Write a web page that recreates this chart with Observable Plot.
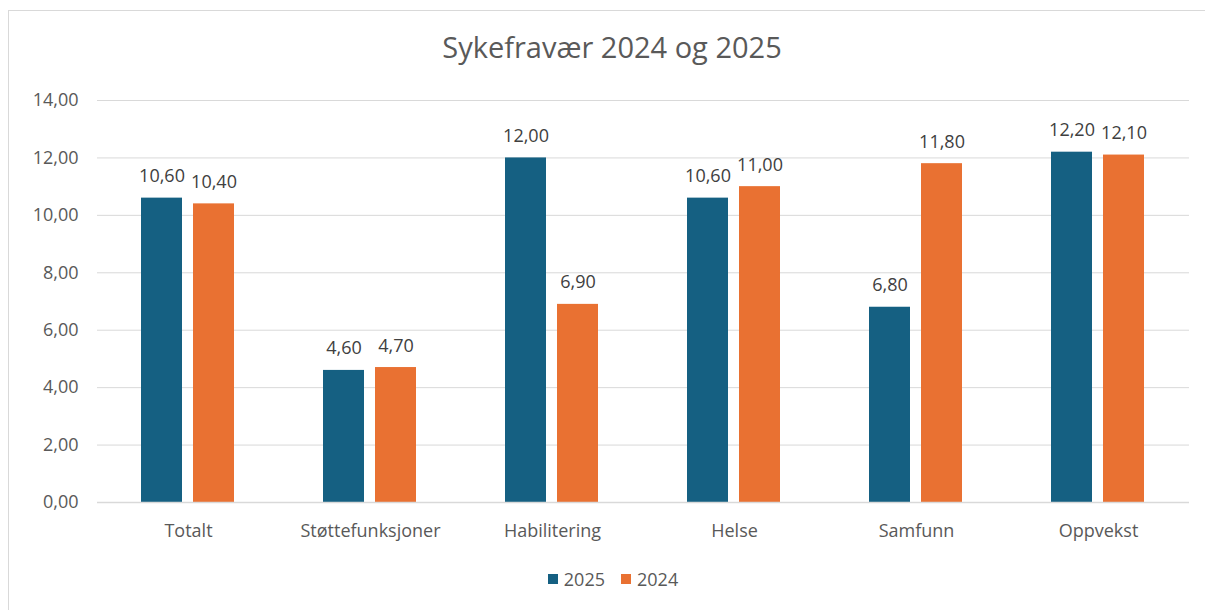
<!DOCTYPE html>
<html>
<head>
<meta charset="utf-8">
<script src="https://cdn.jsdelivr.net/npm/d3@7"></script>
<script src="https://cdn.jsdelivr.net/npm/@observablehq/plot@0.6"></script>
<style>
  html, body { margin: 0; padding: 0; background: #fff; }
  body { width: 1205px; height: 610px; overflow: hidden; position: relative; font-family: "Open Sans", sans-serif; }
  #frame { position: absolute; left: 8px; top: 10px; width: 1400px; height: 700px; border-left: 1px solid #d9d9d9; border-top: 1px solid #d9d9d9; }
  #title { position: absolute; left: 0; top: 27px; width: 1224px; text-align: center; font-size: 29px; color: #595959; line-height: 40px; }
  #chart { position: absolute; left: 0; top: 80px; }
  #legend { position: absolute; top: 565px; left: 0; width: 1226px; text-align: center; font-size: 18px; color: #595959; }
  #legend span.item { display: inline-flex; align-items: center; margin: 0 8px; }
  #legend span.sw { display: inline-block; width: 10px; height: 10px; margin-right: 6px; }
</style>
</head>
<body>
<div id="frame"></div>
<div id="title">Sykefravær 2024 og 2025</div>
<div id="chart"></div>
<div id="legend"></div>
<script>
const categories = ["Totalt", "Støttefunksjoner", "Habilitering", "Helse", "Samfunn", "Oppvekst"];
const seriesNames = ["2025", "2024"];
const values2025 = [10.6, 4.6, 12.0, 10.6, 6.8, 12.2];
const values2024 = [10.4, 4.7, 6.9, 11.0, 11.8, 12.1];
const yTicks = [0, 2, 4, 6, 8, 10, 12, 14];
const colors = ["#156082", "#E97132"];

const locale = d3.formatLocale({decimal: ",", thousands: " ", grouping: [3], currency: ["", ""]});
const fmt = locale.format(".2f");

const data = [];
categories.forEach((c, i) => {
  data.push({category: c, series: seriesNames[0], value: values2025[i]});
  data.push({category: c, series: seriesNames[1], value: values2024[i]});
});

const chart = Plot.plot({
  width: 1205,
  height: 475,
  marginTop: 20,
  marginBottom: 53,
  marginLeft: 96,
  marginRight: 15,
  style: {fontFamily: "Open Sans, sans-serif", fontSize: "18px", color: "#595959", background: "transparent"},
  fx: {domain: categories, padding: 0, label: null, axis: "bottom", tickSize: 0, tickPadding: 22},
  x: {domain: seriesNames, axis: null, paddingInner: 0.21, paddingOuter: 0.855},
  y: {domain: [0, 14], ticks: yTicks, tickFormat: fmt, label: null, tickSize: 0, tickPadding: 19},
  color: {domain: seriesNames, range: colors},
  marks: [
    Plot.ruleY(yTicks.filter(d => d > 0), {stroke: "#d9d9d9", strokeWidth: 1, strokeOpacity: 1}),
    Plot.barY(data, {fx: "category", x: "series", y: "value", fill: "series", inset: 0}),
    Plot.ruleY([0], {stroke: "#d9d9d9", strokeWidth: 1.5}),
    Plot.text(data, {fx: "category", x: "series", y: "value", text: d => fmt(d.value), lineAnchor: "bottom", dy: -16, fill: "#404040", fontSize: 18})
  ]
});
document.getElementById("chart").appendChild(chart);

const legend = document.getElementById("legend");
seriesNames.forEach((s, i) => {
  const item = document.createElement("span");
  item.className = "item";
  const sw = document.createElement("span");
  sw.className = "sw";
  sw.style.background = colors[i];
  item.appendChild(sw);
  item.appendChild(document.createTextNode(s));
  legend.appendChild(item);
});
</script>
</body>
</html>
